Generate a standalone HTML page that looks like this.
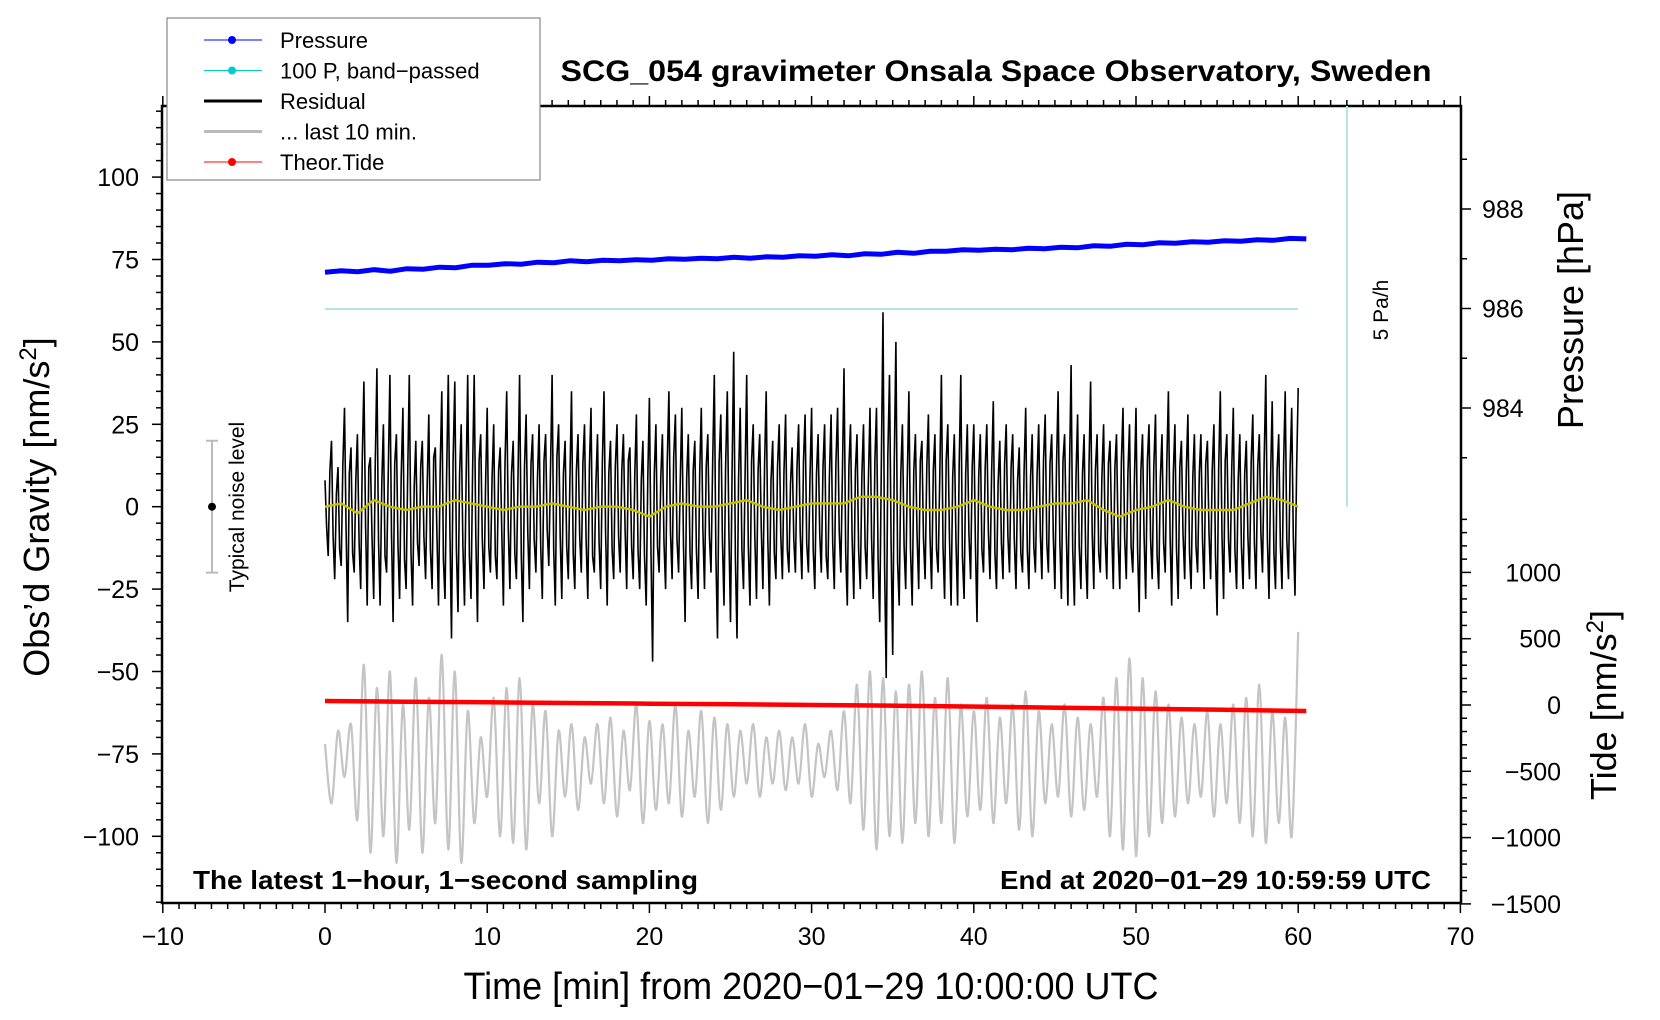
<!DOCTYPE html>
<html><head><meta charset="utf-8"><style>
html,body{margin:0;padding:0;background:#fff;}
svg{display:block;font-family:"Liberation Sans",sans-serif;}
</style></head><body>
<svg id="chart" width="1660" height="1020" viewBox="0 0 1660 1020">
<g id="g-grid"></g>
<g id="g-data"></g>
<g id="g-text">
<text x="996" y="81" text-anchor="middle" font-weight="bold" font-size="30" textLength="871" lengthAdjust="spacingAndGlyphs">SCG_054 gravimeter Onsala Space Observatory, Sweden</text>
<text x="193" y="889" font-weight="bold" font-size="26" textLength="505" lengthAdjust="spacingAndGlyphs">The latest 1−hour, 1−second sampling</text>
<text x="1431" y="889" text-anchor="end" font-weight="bold" font-size="26" textLength="431" lengthAdjust="spacingAndGlyphs">End at 2020−01−29 10:59:59 UTC</text>
<text x="811" y="999" text-anchor="middle" font-size="38" textLength="695" lengthAdjust="spacingAndGlyphs">Time [min] from 2020−01−29 10:00:00 UTC</text>
<text transform="translate(49,507) rotate(-90)" text-anchor="middle" font-size="36">Obs’d Gravity [nm/s<tspan baseline-shift="super" font-size="24">2</tspan>]</text>
<text transform="translate(1583,310) rotate(-90)" text-anchor="middle" font-size="36">Pressure [hPa]</text>
<text transform="translate(1616,705) rotate(-90)" text-anchor="middle" font-size="36">Tide [nm/s<tspan baseline-shift="super" font-size="24">2</tspan>]</text>
<text transform="translate(1388,310) rotate(-90)" text-anchor="middle" font-size="21">5 Pa/h</text>
<text transform="translate(244,507) rotate(-90)" text-anchor="middle" font-size="21">Typical noise level</text>
</g>
<g id="g-legend"></g>
</svg>
<script>
// ---- data ----
const residual = [
8,-15,20,-22,12, -18,30,-35,18,-20, 22,-25,38,-30,15, -28,42,-30,25,-20, 40,-35,22,-28,30,
-25,40,-30,20,-18, 20,-22,28,-25,18, -30,35,-28,40,-40, 38,-32,25,-30,40, -28,40,-35,22,-25,
30,-20,25,-22,18, -30,35,-25,20,-22, 40,-35,28,-25,22, -20,25,-28,22,-18, 40,-30,25,-28,20,
-22,35,-25,22,-20, 25,-28,30,-20,22, -25,35,-30,20,-22, 25,-20,22,-25,18, -22,28,-25,20,-30,
33,-47,25,-20,22, -25,35,-22,28,-20, 30,-35,22,-25,20, -28,30,-25,22,-20, 40,-40,28,-30,35,
-35,47,-40,30,-25, 40,-30,25,-28,22, -25,35,-30,20,-22, 25,-22,28,-20,18, -20,25,-22,28,-20,
30,-25,22,-20,25, -22,28,-25,30,-20, 42,-30,25,-28,22, -25,25,-22,30,-28, 30,-35,59,-52,40,
-45,50,-30,25,-25, 35,-30,22,-25,20, -22,28,-25,22,-20, 40,-28,25,-30,22, -30,40,-28,25,-22,
25,-35,22,-20,25, -22,32,-25,20,-22, 25,-20,22,-25,18, -20,30,-25,22,-20, 25,-22,28,-20,22,
-25,35,-28,22,-30, 43,-30,28,-25,22, -28,38,-25,22,-20, 25,-22,20,-25,22, -25,30,-22,25,-20,
30,-32,22,-28,25, -22,28,-25,22,-20, 35,-30,25,-28,20, -22,28,-25,22,-20, 22,-25,20,-22,25,
-33,35,-28,22,-20, 30,-25,22,-25,20, -22,28,-25,22,-20, 40,-28,32,-25,22, -25,35,-22,30,-27, 36];
// intermediate samples between the residual samples above
const residualFine = [
-6,11,-9,4,-13, 12,-7,10,-14,8, -11,15,-6,12,-9, 14,-10,7,-15,11, -8,13,-12,9,-16,
10,-14,6,-11,12, -9,7,-13,15,-8, 12,-16,9,-7,14, -13,10,-12,8,-15, 11,-9,14,-10,7,
-12,9,-15,11,-8, 13,-7,10,-14,9, -15,12,-8,13,-10, 9,-12,14,-7,11, -13,15,-9,10,-12,
8,-14,11,-9,13, -10,12,-15,7,-11, 14,-8,10,-13,12, -9,11,-7,14,-12, 10,-13,8,-15,9,
-14,10,-12,9,-11, 13,-8,15,-10,7, -12,9,-14,11,-13, 10,-7,12,-9,14, -15,13,-10,12,-8,
11,-16,9,-13,10, -12,14,-9,11,-7, 13,-10,8,-14,12, -9,11,-13,7,-10, 12,-8,14,-11,9,
-13,10,-8,12,-15, 9,-11,13,-7,10, -14,12,-9,11,-13, 10,-12,8,-10,14, -16,12,-18,15,-11,
14,-17,10,-12,9, -13,11,-8,14,-10, 12,-9,11,-13,8, -12,14,-10,9,-11, 13,-15,10,-8,12,
-11,9,-13,12,-8, 10,-14,7,-11,13, -9,12,-10,8,-14, 11,-13,9,-12,10, -8,14,-11,13,-9,
12,-10,14,-8,11, -13,9,-12,10,-15, 12,-8,11,-14,9, -10,13,-7,12,-11, 14,-9,10,-12,8,
-13,11,-9,14,-10, 12,-15,8,-11,13, -9,10,-13,12,-8, 11,-14,9,-12,10, -10,13,-8,11,-15,
12,-9,14,-10,11, -13,8,-12,10,-9, 14,-11,12,-8,13, -10,9,-14,11,-12, 13,-10,12,-9,11];
const residualSmooth = [0,1,-2,2,0,-1,0,0,2,1,0,-1,0,0,1,0,-1,0,0,-1,-3,0,1,0,0,1,2,0,-1,0,1,1,1,3,3,2,0,-1,-1,0,2,0,-1,-1,0,1,1,2,-1,-3,-1,0,2,0,-1,-1,-1,1,3,2,0];
const last10 = [
-72,-90,-68,-82,-66,-95,-48,-105,-55,-100, -50,-108,-60,-98,-52,-105,-58,-96,-45,-104,
-50,-108,-62,-96,-70,-88,-58,-100,-55,-102, -52,-104,-60,-90,-62,-100,-68,-88,-66,-92,
-70,-84,-66,-90,-64,-94,-68,-86,-60,-96, -65,-92,-66,-90,-60,-94,-68,-88,-62,-96,
-64,-92,-66,-88,-68,-84,-66,-88,-70,-84, -68,-86,-70,-84,-66,-88,-72,-82,-68,-86,
-62,-90,-54,-98,-50,-104,-52,-100,-56,-102, -54,-96,-50,-100,-58,-96,-52,-102,-60,-94,
-62,-92,-58,-96,-64,-90,-60,-98,-56,-100, -62,-90,-66,-88,-60,-94,-64,-92,-66,-88,
-58,-100,-52,-104,-46,-106,-52,-100,-56,-96, -60,-94,-64,-90,-66,-88,-62,-94,-66,-90,
-60,-96,-58,-100,-54,-102,-62,-96,-64,-100, -38];
const pressure = [986.73,986.76,986.74,986.78,986.75,986.80,986.79,986.83,986.82,986.87,986.87,986.90,986.89,986.93,986.92,986.96,986.94,986.97,986.96,986.98,986.97,987.00,986.99,987.01,987.00,987.03,987.01,987.04,987.03,987.06,987.05,987.08,987.06,987.10,987.09,987.13,987.11,987.15,987.15,987.18,987.17,987.19,987.18,987.21,987.20,987.23,987.22,987.26,987.25,987.29,987.28,987.32,987.31,987.34,987.33,987.36,987.35,987.38,987.37,987.41,987.40];
const bandPassed = [60,60,60,60,60,60,60,60,60,60,60,60,60];
const tide = [30,25,20,15,10,5,0,-5,-12,-20,-28,-36,-45];
const xTicks = [-10,0,10,20,30,40,50,60,70];
const yLeftTicks = [-100,-75,-50,-25,0,25,50,75,100];
const pressureTicks = [984,986,988];
const tideTicks = [-1500,-1000,-500,0,500,1000];

// ---- scales ----
const L=162,R=1461,T=106,B=903;
const xS = m => 325 + m*16.22;
const yL = v => 506.7 - v*3.296;
const yP = p => 308.5 - (p-986)*49.75;
const yT = t => 705 - t*0.1326;
const NS='http://www.w3.org/2000/svg';
function mk(tag, attrs, parent){const e=document.createElementNS(NS,tag);for(const k in attrs)e.setAttribute(k,attrs[k]);parent.appendChild(e);return e;}
const gA=document.getElementById('g-grid'), gD=document.getElementById('g-data'), gLg=document.getElementById('g-legend');

const frame = mk('rect',{x:L,y:T,width:R-L,height:B-T,fill:'none',stroke:'#000','stroke-width':2.5},gA);


for(let m=-10;m<=70;m++){
  const maj=m%10===0, len=maj?10:6, x=xS(m);
  mk('line',{x1:x,y1:B,x2:x,y2:B+len,stroke:'#000','stroke-width':1.5},gA);
  mk('line',{x1:x,y1:T,x2:x,y2:T-len,stroke:'#000','stroke-width':1.5},gA);
}
xTicks.forEach(v=>{const t=mk('text',{x:xS(v),y:945,'text-anchor':'middle','font-size':25},gA);t.textContent=(v<0?'−':'')+Math.abs(v);
  
  });
for(let v=-120;v<=120;v+=5){const y=yL(v);if(y<T||y>B)continue;const len=v%25===0?10:6;
  mk('line',{x1:L,y1:y,x2:L-len,y2:y,stroke:'#000','stroke-width':1.5},gA);}
yLeftTicks.forEach(v=>{const t=mk('text',{x:139,y:yL(v)+9,'text-anchor':'end','font-size':25},gA);t.textContent=(v<0?'−':'')+Math.abs(v);
  
  });
for(let p=983;p<=989;p++){const y=yP(p);const len=p%2===0?10:6;mk('line',{x1:R,y1:y,x2:R+len,y2:y,stroke:'#000','stroke-width':1.5},gA);}
pressureTicks.forEach(p=>{const t=mk('text',{x:1482,y:yP(p)+9,'font-size':25},gA);t.textContent=p;
  
  });
for(let v=-1500;v<=1400;v+=100){const y=yT(v);const len=v%500===0?10:6;mk('line',{x1:R,y1:y,x2:R+len,y2:y,stroke:'#000','stroke-width':1.5},gA);}
tideTicks.forEach(v=>{const t=mk('text',{x:1561,y:yT(v)+9,'text-anchor':'end','font-size':25},gA);t.textContent=(v<0?'−':'')+Math.abs(v);
  
  });

const cv=mk('line',{x1:1347,y1:T,x2:1347,y2:yL(0),stroke:'#b4e4e8','stroke-width':2},gD);


const bp=mk('polyline',{points:bandPassed.map((v,i)=>xS(i*5)+','+yL(v)).join(' '),fill:'none',stroke:'#b4e4e8','stroke-width':2},gD);



function smooth(pts){let d='M'+pts[0][0]+','+pts[0][1];for(let i=0;i<pts.length-1;i++){const p0=pts[Math.max(0,i-1)],p1=pts[i],p2=pts[i+1],p3=pts[Math.min(pts.length-1,i+2)];
  const c1x=p1[0]+(p2[0]-p0[0])/6,c1y=p1[1]+(p2[1]-p0[1])/6,c2x=p2[0]-(p3[0]-p1[0])/6,c2y=p2[1]-(p3[1]-p1[1])/6;
  d+=' C'+c1x.toFixed(1)+','+c1y.toFixed(1)+' '+c2x.toFixed(1)+','+c2y.toFixed(1)+' '+p2[0].toFixed(1)+','+p2[1].toFixed(1);}return d;}

const gp=mk('path',{d:smooth(last10.map((v,i)=>[xS(i*60/(last10.length-1)),yL(v)])),fill:'none',stroke:'#c4c4c4','stroke-width':2.2},gD);


const rPts=[];
const step=60/(residual.length-1);
residual.forEach((v,i)=>{rPts.push(xS(i*step).toFixed(1)+','+yL(v).toFixed(1));
  if(i<residualFine.length && i<residual.length-1) rPts.push(xS((i+0.5)*step).toFixed(1)+','+yL(residualFine[i]).toFixed(1));});
const rp=mk('polyline',{points:rPts.join(' '),fill:'none',stroke:'#000','stroke-width':1.6},gD);


const yp=mk('polyline',{points:residualSmooth.map((v,i)=>xS(i).toFixed(1)+','+yL(v).toFixed(1)).join(' '),fill:'none',stroke:'#c8c000','stroke-width':2.4},gD);


const pp=mk('polyline',{points:pressure.map((v,i)=>xS(i*60.5/60).toFixed(1)+','+yP(v).toFixed(1)).join(' '),fill:'none',stroke:'#0000ff','stroke-width':5},gD);


const tp=mk('polyline',{points:tide.map((v,i)=>xS(i*5*60.5/60).toFixed(1)+','+yT(v).toFixed(1)).join(' '),fill:'none',stroke:'#ff0000','stroke-width':4.5},gD);



const nb=mk('g',{},gD);


mk('line',{x1:212,y1:yL(20),x2:212,y2:yL(-20),stroke:'#bbb','stroke-width':2},nb);
mk('line',{x1:206,y1:yL(20),x2:218,y2:yL(20),stroke:'#bbb','stroke-width':2},nb);
mk('line',{x1:206,y1:yL(-20),x2:218,y2:yL(-20),stroke:'#bbb','stroke-width':2},nb);
mk('circle',{cx:212,cy:yL(0),r:4,fill:'#000'},nb);

const lb=mk('rect',{x:167,y:18,width:373,height:162,fill:'#fff',stroke:'#888','stroke-width':1.2},gLg);


const legendLabels=['Pressure','100 P, band−passed','Residual','... last 10 min.','Theor.Tide'];
const legendColors=['#0000ff','#00cccc','#000','#bbb','#ff0000'];
const legendDots=[true,true,false,false,true];
legendLabels.forEach((lab,i)=>{const y=40+i*30.5;const g=mk('g',{},gLg);
  
  
  mk('line',{x1:204,y1:y,x2:262,y2:y,stroke:legendColors[i],'stroke-width':legendDots[i]?1:3},g);
  if(legendDots[i])mk('circle',{cx:232,cy:y,r:4,fill:legendColors[i]},g);
  const t=mk('text',{x:280,y:y+8,'font-size':22},g);t.textContent=lab;});
</script>
</body></html>
